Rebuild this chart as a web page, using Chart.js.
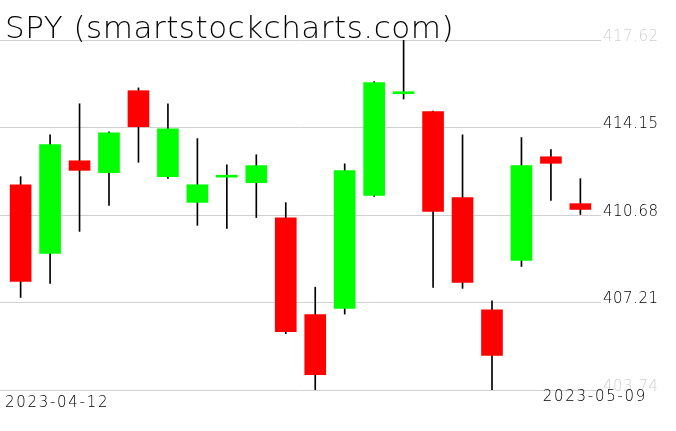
<!DOCTYPE html>
<html lang="en">
<head>
<meta charset="UTF-8">
<title>SPY - candles</title>
<script src="https://cdn.jsdelivr.net/npm/chart.js"></script>
<style>
  body { margin: 0; background: #fff; }
  #wrap { width: 676px; height: 431px; }
</style>
</head>
<body>
<div id="wrap"><canvas id="spyChart" width="676" height="431"></canvas></div>
<script>
  const title = 'SPY (smartstockcharts.com)';
  const dates = ['2023-04-12', '2023-04-13', '2023-04-14', '2023-04-17', '2023-04-18',
    '2023-04-19', '2023-04-20', '2023-04-21', '2023-04-24', '2023-04-25',
    '2023-04-26', '2023-04-27', '2023-04-28', '2023-05-01', '2023-05-02',
    '2023-05-03', '2023-05-04', '2023-05-05', '2023-05-08', '2023-05-09'];
  const opens = [411.88, 409.16, 412.83, 412.36, 415.61, 412.20, 411.18, 412.18, 411.96, 410.57,
    406.73, 406.98, 411.46, 415.49, 414.78, 411.37, 406.92, 408.88, 412.99, 411.13];
  const highs = [412.20, 413.86, 415.09, 413.98, 415.72, 415.09, 413.71, 412.67, 413.07, 411.17,
    407.82, 412.71, 415.97, 417.62, 414.80, 413.86, 407.28, 413.75, 413.27, 412.12];
  const lows = [407.41, 407.97, 410.03, 411.06, 412.77, 412.13, 410.27, 410.15, 410.58, 405.97,
    403.74, 406.75, 411.42, 415.28, 407.81, 407.77, 403.74, 408.64, 411.26, 410.70];
  const closes = [408.05, 413.47, 412.45, 413.94, 414.18, 414.10, 411.88, 412.20, 412.64, 406.05,
    404.35, 412.44, 415.93, 415.51, 410.82, 408.01, 405.11, 412.64, 412.73, 410.90];
  const priceTicks = [403.74, 407.21, 410.68, 414.15, 417.62];

  const UP = '#00ff00';
  const DOWN = '#ff0000';
  const FONT = "'DejaVu Sans', sans-serif";

  const bodies = dates.map((d, i) => ({ x: i, y: [opens[i], closes[i]] }));
  const wicks = dates.map((d, i) => ({ x: i, y: [lows[i], highs[i]] }));
  const bodyColors = dates.map((d, i) => closes[i] >= opens[i] ? UP : DOWN);

  // titulo e datas das pontas
  const textPlugin = {
    id: 'textPlugin',
    beforeDraw(chart) {
      chart.ctx.letterSpacing = '0.5px';
    },
    afterDraw(chart) {
      const ctx = chart.ctx;
      ctx.save();
      ctx.fillStyle = '#000';
      ctx.textBaseline = 'alphabetic';
      ctx.font = '200 31px ' + FONT;
      ctx.letterSpacing = '0.5px';
      ctx.textAlign = 'left';
      ctx.fillText(title, 5, 38);
      ctx.font = '200 15px ' + FONT;
      ctx.letterSpacing = '1.7px';
      ctx.fillText(dates[0], 5, 407);
      ctx.textAlign = 'right';
      ctx.fillText(dates[dates.length - 1], 647, 401);
      ctx.restore();
    }
  };

  const ctx = document.getElementById('spyChart').getContext('2d');
  const chart = new Chart(ctx, {
    type: 'bar',
    data: {
      datasets: [{
        label: 'body',
        data: bodies,
        backgroundColor: bodyColors,
        barThickness: 21,
        minBarLength: 2,
        borderWidth: 0,
        borderSkipped: false,
        grouped: false,
        order: 0
      }, {
        label: 'wick',
        data: wicks,
        backgroundColor: '#000',
        barThickness: 1,
        borderWidth: 0,
        borderSkipped: false,
        grouped: false,
        order: 1
      }]
    },
    options: {
      responsive: false,
      animation: false,
      layout: { padding: { top: 40, bottom: 41, left: 0, right: 0 } },
      plugins: {
        legend: { display: false },
        tooltip: { enabled: false }
      },
      scales: {
        x: {
          type: 'linear',
          display: false,
          offset: false,
          min: -0.7,
          max: 19.7
        },
        y: {
          position: 'right',
          min: priceTicks[0],
          max: priceTicks[priceTicks.length - 1],
          beginAtZero: false,
          afterBuildTicks: scale => { scale.ticks = priceTicks.map(v => ({ value: v })); },
          afterFit: scale => { scale.width = 75; },
          border: { display: false },
          grid: { color: '#d0d0d0', lineWidth: 1, drawTicks: false },
          ticks: {
            padding: 2,
            labelOffset: -3,
            font: { family: FONT, size: 15, weight: '200' },
            color: c => (c.index === 0 || c.index === priceTicks.length - 1) ? '#d0d0d0' : '#000',
            callback: v => v.toFixed(2)
          }
        }
      }
    },
    plugins: [textPlugin]
  });
</script>
</body>
</html>
